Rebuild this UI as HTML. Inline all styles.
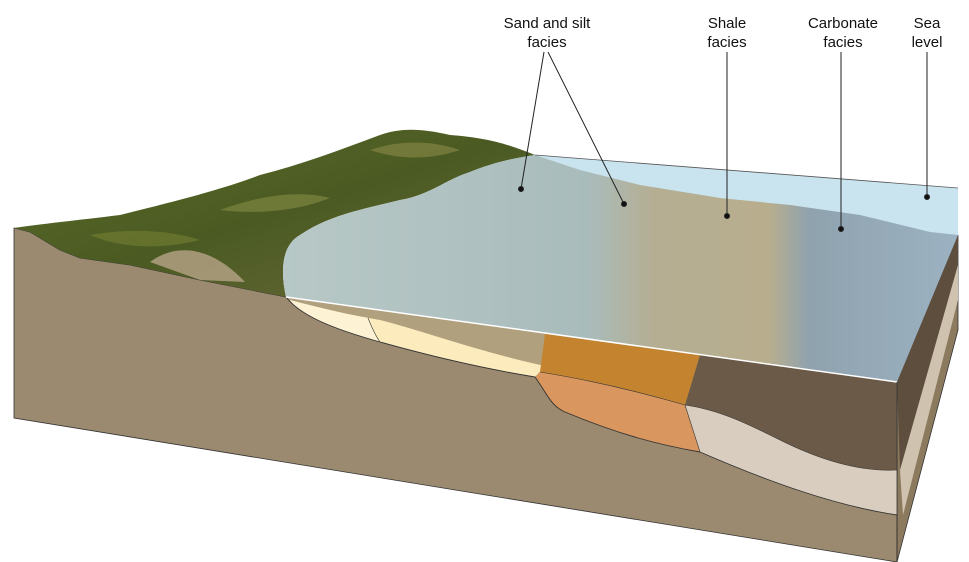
<!DOCTYPE html>
<html><head><meta charset="utf-8"><style>
html,body{margin:0;padding:0;background:#fff;}
svg{display:block;}
text{font-family:"Liberation Sans",sans-serif;font-size:15px;fill:#111;text-anchor:middle;}
</style></head><body>
<svg width="969" height="562" viewBox="0 0 969 562" xmlns="http://www.w3.org/2000/svg">
<defs>
<linearGradient id="land" x1="0" y1="0" x2="1" y2="1">
<stop offset="0" stop-color="#5d6e2a"/><stop offset="0.5" stop-color="#4a5a22"/><stop offset="1" stop-color="#6b6a3a"/></linearGradient>
<linearGradient id="sea" x1="0" y1="0" x2="1" y2="0">
<stop offset="0" stop-color="#b7c8c6"/><stop offset="0.45" stop-color="#a9bcbc"/><stop offset="0.55" stop-color="#b5ae92"/><stop offset="0.72" stop-color="#b8ae8e"/><stop offset="0.78" stop-color="#8fa2ae"/><stop offset="1" stop-color="#9cb2c2"/></linearGradient>
</defs>
<polygon points="14,228 30,232 60,250 80,258 130,265 200,280 286,297 897,382 897,562 14,418" fill="#9b8a70" stroke="#333" stroke-width="0.8"/>
<polygon points="897,382 958,235 958,330 897,562" fill="#8c7a5f" stroke="#333" stroke-width="0.8"/>
<polygon points="897,382 958,235 958,265 900,470" fill="#5e4e3e"/>
<polygon points="900,470 958,265 958,300 903,515" fill="#cfc3b0"/>
<path d="M14,228 L30,232 L60,250 L80,258 L130,265 L200,280 L286,297 C280,270 282,245 300,235 C330,215 360,210 400,200 C430,195 445,180 470,172 C495,162 515,158 535,155 C510,145 490,138 450,135 C420,128 400,128 380,135 C340,150 300,165 260,175 C220,190 180,200 120,215 C80,220 40,224 14,228 Z" fill="url(#land)"/>
<path d="M150,262 C180,240 215,250 245,282 L200,280 Z" fill="#b7a488" opacity="0.8"/>
<path d="M220,210 C260,195 300,190 330,198 C300,210 260,215 220,210 Z" fill="#7d8640" opacity="0.7"/>
<path d="M370,150 C400,140 430,140 460,150 C430,160 400,160 370,150 Z" fill="#8a8b48" opacity="0.6"/>
<path d="M90,235 C130,228 170,230 200,240 C160,250 120,248 90,235 Z" fill="#6f7a30" opacity="0.7"/>
<path d="M535,155 L958,188 L958,235 L897,382 L286,297 C280,270 282,245 300,235 C330,215 360,210 400,200 C430,195 445,180 470,172 C495,162 515,158 535,155 Z" fill="url(#sea)"/>
<polygon points="535,155 958,188 958,235 930,232 860,215 790,205 720,198 640,185 580,170" fill="#c9e3ef"/>
<line x1="535" y1="155" x2="958" y2="188" stroke="#555" stroke-width="0.8"/>
<path d="M286,297 L897,382 L897,515 C830,505 760,478 700,452 C660,445 620,435 565,412 C550,405 548,395 535,377 C480,368 430,356 380,342 C330,328 300,315 286,297 Z" fill="#b0a07e"/>
<path d="M290,300 C320,308 350,315 380,320 C420,330 480,352 545,366 L535,377 C480,368 430,356 380,342 C330,328 300,315 290,300 Z" fill="#fbebbd"/>
<path d="M290,300 C320,308 350,315 368,318 C372,328 375,335 380,342 C330,328 300,315 290,300 Z" fill="#fdf3d4"/>
<path d="M368,318 C372,328 375,335 380,342" fill="none" stroke="#333" stroke-width="0.6"/>
<polygon points="545,334 700,355 685,405 540,372" fill="#c4842f"/>
<path d="M540,372 C590,380 640,392 685,405 L700,452 C660,445 620,435 565,412 C550,405 548,395 535,377 Z" fill="#d9975f"/>
<path d="M700,355 L897,382 L897,470 C860,472 820,460 780,440 C750,425 720,410 685,405 Z" fill="#6b5a48"/>
<path d="M685,405 C720,410 750,425 780,440 C820,460 860,472 897,470 L897,515 C830,505 760,478 700,452 Z" fill="#d8cdbf"/>
<path d="M685,405 C720,410 750,425 780,440 C820,460 860,472 897,470" fill="none" stroke="#333" stroke-width="0.6"/>
<path d="M540,372 C590,380 640,392 685,405 L700,452" fill="none" stroke="#333" stroke-width="0.6"/>
<path d="M286,297 C300,315 330,328 380,342 C430,356 480,368 535,377 C548,395 550,405 565,412 C620,435 660,445 700,452 C760,478 830,505 897,515" fill="none" stroke="#333" stroke-width="0.9"/>
<line x1="286" y1="297" x2="897" y2="382" stroke="#fff" stroke-width="1.5"/>
<line x1="897" y1="382" x2="897" y2="562" stroke="#333" stroke-width="0.8"/>
<text x="547" y="28">Sand and silt</text><text x="547" y="47">facies</text>
<text x="727" y="28">Shale</text><text x="727" y="47">facies</text>
<text x="843" y="28">Carbonate</text><text x="843" y="47">facies</text>
<text x="927" y="28">Sea</text><text x="927" y="47">level</text>
<g stroke="#222" stroke-width="1" fill="#111">
<line x1="544" y1="52" x2="521" y2="189"/><line x1="548" y1="52" x2="624" y2="204"/>
<line x1="727" y1="52" x2="727" y2="216"/><line x1="841" y1="52" x2="841" y2="229"/>
<line x1="927" y1="52" x2="927" y2="197"/>
<circle cx="521" cy="189" r="2.5"/><circle cx="624" cy="204" r="2.5"/><circle cx="727" cy="216" r="2.5"/><circle cx="841" cy="229" r="2.5"/><circle cx="927" cy="197" r="2.5"/>
</g>
</svg>
</body></html>
